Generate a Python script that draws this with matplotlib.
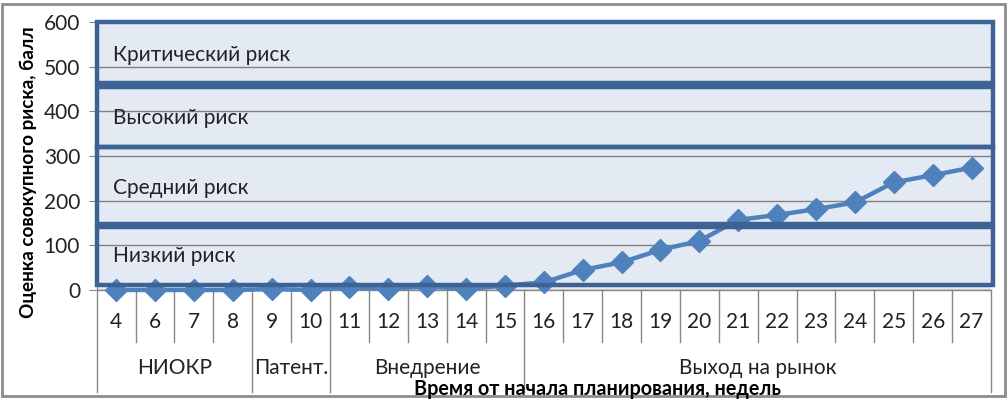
import matplotlib
matplotlib.use("Agg")
import matplotlib.pyplot as plt
from matplotlib.patches import Rectangle

plt.rcParams['font.family'] = ['Lato', 'DejaVu Sans']

weeks = ["4", "6", "7", "8", "9", "10", "11", "12", "13", "14", "15", "16",
         "17", "18", "19", "20", "21", "22", "23", "24", "25", "26", "27"]
risk = [0, 0, 0, 0, 2, 0, 6, 3, 8, 2, 10, 17, 45, 62, 90, 110, 157, 168, 181, 196, 241, 257, 274]
groups = ["НИОКР", "Патент.", "Внедрение", "Выход на рынок"]
group_sizes = [4, 2, 5, 12]
bands = ["Критический риск", "Высокий риск", "Средний риск", "Низкий риск"]
band_lo = [463, 321, 148, 11]
band_hi = [600, 455, 321, 142]
band_text_y = [526, 385, 228, 76]
yticks = [0, 100, 200, 300, 400, 500, 600]

W, H = 1008, 400
fig = plt.figure(figsize=(W / 100, H / 100), dpi=100)
x0, x1, ytop, ybot = 96.7, 991, 22, 290
ax = fig.add_axes([x0 / W, (H - ybot) / H, (x1 - x0) / W, (ybot - ytop) / H])
ax.set_facecolor("#E4EAF4")

FS = 15
n = len(weeks)
xs = list(range(n))
ax.set_xlim(-0.5, n - 0.5)
ax.set_ylim(0, 600)
ax.set_yticks(yticks)
ax.set_yticklabels([str(v) for v in yticks], fontsize=FS, color="#222222")
ax.tick_params(axis='y', length=6, color="#868686", pad=6)
ax.set_xticks([])
for s in ["top", "right", "bottom"]:
    ax.spines[s].set_visible(False)
ax.spines["left"].set_color("#868686")
ax.grid(axis='y', color="#808080", linewidth=1)
ax.set_axisbelow(True)

ax.plot(xs, risk, color="#4F81BD", linewidth=3.2, marker="D", markersize=11,
        zorder=3, clip_on=False)

border = "#3D6394"
for lo, hi, name, ty in zip(band_lo, band_hi, bands, band_text_y):
    r = Rectangle((-0.49, lo), n + 0.04, hi - lo, fill=False, edgecolor=border,
                  linewidth=3.2, zorder=4, clip_on=False)
    ax.add_patch(r)
    ax.text(-0.08, ty, name, fontsize=FS, va="center", ha="left", color="#222222", zorder=5)

# category table below the axis
tr = ax.get_xaxis_transform()
px = 1.0 / (ybot - ytop)
ax.plot([-0.5, n - 0.5], [0, 0], transform=tr, color="#868686", lw=1, clip_on=False, zorder=2)
bounds = [0]
for g in group_sizes:
    bounds.append(bounds[-1] + g)
for i in range(n + 1):
    bottom = -102 * px if i in bounds else -52 * px
    ax.plot([i - 0.5, i - 0.5], [0, bottom], transform=tr, color="#868686", lw=1, clip_on=False)
for i, w in enumerate(weeks):
    ax.text(i, -32 * px, w, transform=tr, ha="center", va="center", fontsize=FS, color="#222222")
for gi, g in enumerate(groups):
    c = (bounds[gi] + bounds[gi + 1] - 1) / 2
    ax.text(c, -78 * px, g, transform=tr, ha="center", va="center", fontsize=FS, color="#222222")

fig.text(597 / W, 1 - 389 / H, "Время от начала планирования, недель", ha="center", va="center",
         fontsize=14.2, fontweight="bold", color="black")
fig.text(28 / W, 1 - 172 / H, "Оценка совокупного риска, балл", ha="center", va="center",
         rotation=90, fontsize=13.6, fontweight="bold", color="black")

fig.patches.append(Rectangle((2 / W, 4 / H), 1003 / W, 392 / H, transform=fig.transFigure,
                             fill=False, edgecolor="#8C8C8C", linewidth=2))

fig.savefig("out.png", dpi=100, facecolor="white")
